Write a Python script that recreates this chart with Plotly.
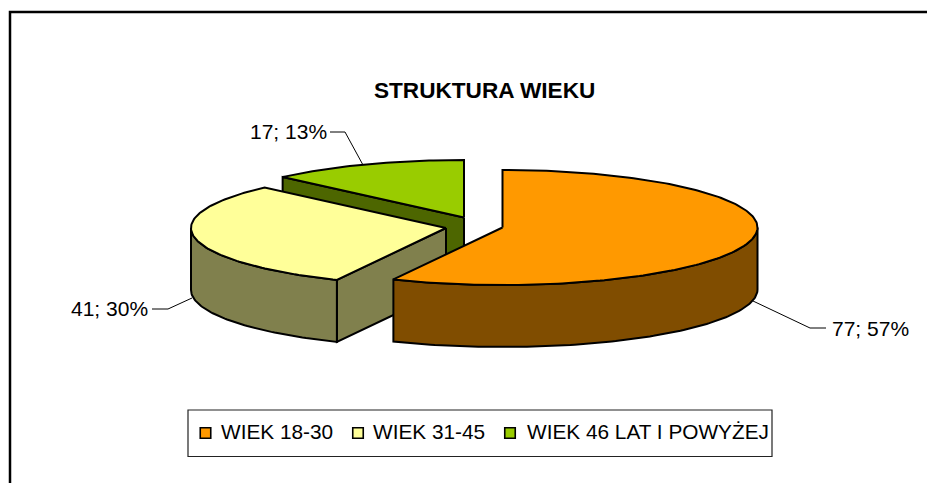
import numpy as np
import plotly.graph_objects as go

TITLE = "STRUKTURA WIEKU"
categories = ["WIEK 18-30", "WIEK 31-45", "WIEK 46 LAT I POWYŻEJ"]
values = [77, 41, 17]
percent_labels = [57, 30, 13]

top_colors = ["#FF9900", "#FFFF99", "#99CC00"]
wall_colors = ["#804D00", "#80804D", "#4D6600"]

# projection of the tilted, exploded pie into the 927x483 page
RX, RY, DEPTH = 255, 57.5, 62
centers = [(502.5, 227.5), (446, 228), (464, 217.5)]
FONT = "Liberation Sans, Arial, sans-serif"
LW = 2

total = sum(values)
edges = np.cumsum([0] + values) / total * 360.0


def rim(cx, cy, a0, a1, dz=0.0):
    n = max(2, int(abs(a1 - a0)) + 2)
    t = np.radians(np.linspace(a0, a1, n))
    return cx + RX * np.sin(t), cy - RY * np.cos(t) + dz


def poly(xs, ys, color, name):
    return go.Scatter(
        x=list(xs) + [xs[0]], y=list(ys) + [ys[0]], mode="lines", fill="toself",
        fillcolor=color, line=dict(color="#000000", width=LW), name=name,
        showlegend=False, hoverinfo="name",
    )


fig = go.Figure()

for i in [2, 1, 0]:
    cx, cy = centers[i]
    a0, a1 = edges[i], edges[i + 1]
    name = categories[i]
    # radial wall on the start side, when it faces the viewer
    if 180 < a0 < 360:
        ex, ey = rim(cx, cy, a0, a0)
        ex, ey = ex[0], ey[0]
        fig.add_trace(poly([cx, ex, ex, cx], [cy, ey, ey + DEPTH, cy + DEPTH], wall_colors[i], name))
    # curved outer wall on the front half of the rim
    w0, w1 = max(a0, 90), min(a1, 270)
    if w1 > w0:
        xa, ya = rim(cx, cy, w0, w1)
        xb, yb = rim(cx, cy, w1, w0, DEPTH)
        fig.add_trace(poly(np.r_[xa, xb], np.r_[ya, yb], wall_colors[i], name))
    # top face
    xa, ya = rim(cx, cy, a0, a1)
    fig.add_trace(poly(np.r_[cx, xa], np.r_[cy, ya], top_colors[i], name))

# leader lines
leaders = [
    ([753, 810, 826], [301, 328, 328]),
    ([192, 168, 152], [298, 309, 309]),
    ([363, 345, 330], [165, 132, 132]),
]
for lx, ly in leaders:
    fig.add_trace(go.Scatter(x=lx, y=ly, mode="lines", line=dict(color="#000000", width=1),
                             showlegend=False, hoverinfo="skip"))

# legend swatches
swatch_x = [205.5, 358, 510]
fig.add_trace(go.Scatter(
    x=swatch_x, y=[433] * 3, mode="markers", showlegend=False, hoverinfo="skip",
    marker=dict(symbol="square", size=10.5, color=top_colors, line=dict(color="#000000", width=1.6)),
))

annotations = [dict(x=484.5, y=90, text=f"<b>{TITLE}</b>", showarrow=False,
                    font=dict(family=FONT, size=22.6, color="#000000"))]
for x, y, i in [(911, 328, 0), (150, 308, 1), (329, 131, 2)]:
    annotations.append(dict(x=x, y=y, text=f"{values[i]}; {percent_labels[i]}%", showarrow=False,
                            xanchor="right", font=dict(family=FONT, size=21, color="#000000")))
for x, i in zip([219, 371, 525], range(3)):
    annotations.append(dict(x=x, y=431, text=categories[i], showarrow=False, xanchor="left",
                            font=dict(family=FONT, size=20.8, color="#000000")))

shapes = [
    dict(type="path", path="M 10 490 L 10 12 L 940 12", line=dict(color="#000000", width=2.5), layer="below"),
    dict(type="rect", x0=188, y0=410, x1=772, y1=456.5, line=dict(color="#222222", width=1.2), layer="below"),
]

fig.update_layout(
    width=927, height=483, margin=dict(l=0, r=0, t=0, b=0),
    paper_bgcolor="#FFFFFF", plot_bgcolor="#FFFFFF", showlegend=False,
    xaxis=dict(range=[0, 927], visible=False, fixedrange=True),
    yaxis=dict(range=[483, 0], visible=False, fixedrange=True),
    annotations=annotations, shapes=shapes,
)
fig.write_html("out.html", config={"displayModeBar": False},
               post_script="document.body.style.margin='0';document.body.style.overflow='hidden';")
